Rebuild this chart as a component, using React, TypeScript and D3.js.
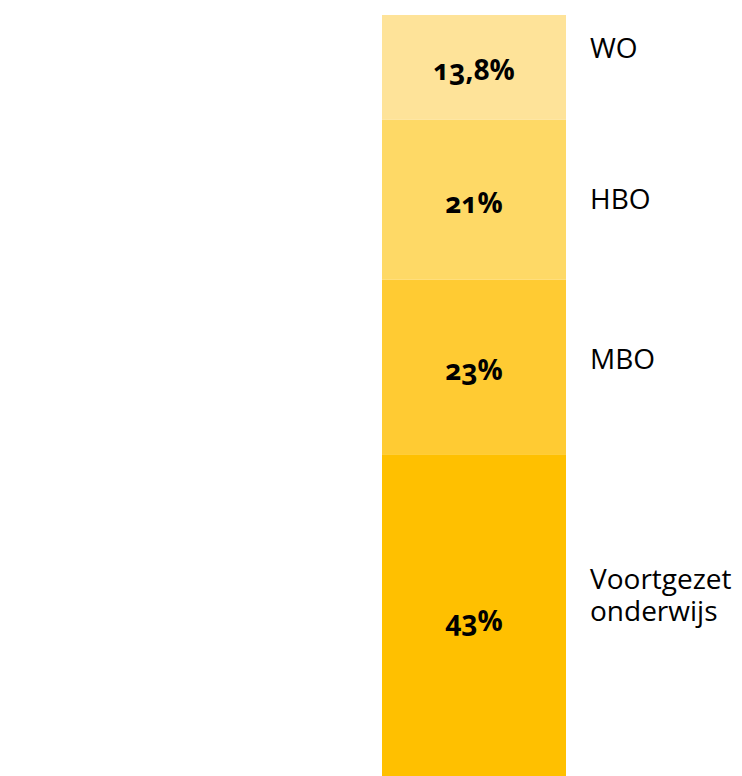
import React from "react";
import * as d3 from "d3";

const categories = ["Voortgezet onderwijs", "MBO", "HBO", "WO"];
const values = [43, 23, 21, 13.8];
const valueLabels = ["43%", "23%", "21%", "13,8%"];
const colors = ["#FFC000", "#FFCB33", "#FED966", "#FEE399"];
// layout: legend label vertical centres (px)
const LEGEND_Y = [594, 358, 198, 47];

export default function App() {
  const W = 742, H = 776;
  const total = d3.sum(values);
  const y = d3.scaleLinear().domain([0, total]).range([781, 15]);
  const x0 = 382, x1 = 566;
  const stacked = values.reduce<{ start: number; end: number }[]>((acc, v) => {
    const s = acc.length ? acc[acc.length - 1].end : 0;
    acc.push({ start: s, end: s + v });
    return acc;
  }, []);
  return (
    <svg width={W} height={H} style={{ position: "absolute", left: 0, top: 0, display: "block" }}>
      {stacked.map((d, i) => (
        <rect key={"r" + i} x={x0} width={x1 - x0} y={y(d.end)} height={y(d.start) - y(d.end)} fill={colors[i]} />
      ))}
      {stacked.map((d, i) => (
        <text
          key={"v" + i}
          x={(x0 + x1) / 2}
          y={(y(d.start) + y(d.end)) / 2 + 2}
          textAnchor="middle"
          dominantBaseline="central"
          fontFamily="'Open Sans', sans-serif"
          fontWeight="bold"
          fontSize={28}
          style={{ fontFeatureSettings: "'onum' 1" }}
          fill="#000"
        >
          {valueLabels[i]}
        </text>
      ))}
      {categories.map((c, i) => {
        const words = c.split(" ");
        const lh = 32;
        return (
          <text key={"l" + i} x={590} fontFamily="'Open Sans', sans-serif" fontSize={28} fill="#000">
            {words.map((w, j) => (
              <tspan key={j} x={590} y={LEGEND_Y[i] + (j - (words.length - 1) / 2) * lh} dominantBaseline="central">
                {w}
              </tspan>
            ))}
          </text>
        );
      })}
    </svg>
  );
}
